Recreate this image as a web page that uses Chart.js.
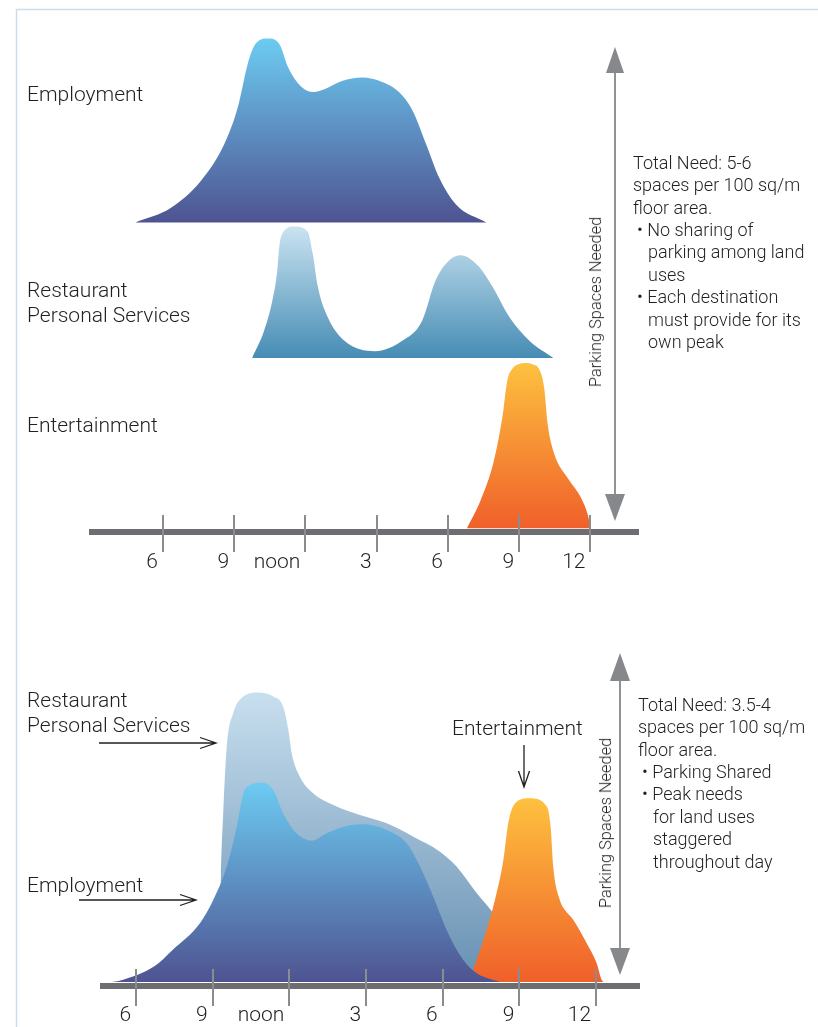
<!DOCTYPE html>
<html>
<head>
<meta charset="utf-8">
<script src="https://cdn.jsdelivr.net/npm/chart.js@4.4.1/dist/chart.umd.min.js"></script>
<style>
  body { margin: 0; background: #fff; }
  #page { position: relative; width: 818px; height: 1027px; overflow: hidden;
          font-family: Roboto, "Liberation Sans", sans-serif; font-weight: 300; color: #231f20; }
  canvas { position: absolute; left: 0; }
  svg { position: absolute; left: 0; top: 0; }
  .lbl { position: absolute; white-space: nowrap; font-size: 21px; line-height: 25px; }
  .note { position: absolute; white-space: nowrap; font-size: 18px; line-height: 22.4px; }
  .note .b { padding-left: 15px; text-indent: -11px; }
  .axisname { position: absolute; white-space: nowrap; font-size: 16.4px; line-height: 18px;
              transform: translate(-50%, -50%) rotate(-90deg); }
</style>
</head>
<body>
<div id="page">
  <svg width="818" height="1027">
    <path d="M16.5 1027 V9.5 H818" fill="none" stroke="#c8ddec" stroke-width="1.5"/>
    <!-- parking spaces arrows -->
    <line x1="615" y1="66" x2="615" y2="500" stroke="#909295" stroke-width="2"/>
    <polygon points="615,47 606,73 624,73" fill="#87888b"/>
    <polygon points="615,521 605,494 625,494" fill="#87888b"/>
    <line x1="620" y1="672" x2="620" y2="956" stroke="#909295" stroke-width="2"/>
    <polygon points="620,653 610,681 630,681" fill="#87888b"/>
    <polygon points="620,975 610,948 630,948" fill="#87888b"/>
    <!-- pointers -->
    <g fill="none" stroke="#231f20" stroke-width="1.3">
      <path d="M99 743 H216 M200 737.5 L216 743 L200 748.5"/>
      <path d="M79 900 H196 M180 894.5 L196 900 L180 905.5"/>
      <path d="M524 745 V787 M518.5 771 L524 787 L529.5 771"/>
    </g>
  </svg>

  <canvas id="separate" width="818" height="600" style="top:0"></canvas>
  <canvas id="shared" width="818" height="427" style="top:600px"></canvas>

  <div class="lbl" style="left:27px; top:81.5px">Employment</div>
  <div class="lbl" style="left:27px; top:277.5px">Restaurant<br>Personal Services</div>
  <div class="lbl" style="left:27px; top:412.5px">Entertainment</div>
  <div class="lbl" style="left:27px; top:687.5px">Restaurant<br>Personal Services</div>
  <div class="lbl" style="left:27px; top:872.5px">Employment</div>
  <div class="lbl" style="left:452px; top:715.5px">Entertainment</div>

  <div class="axisname" style="left:596px; top:302px">Parking Spaces Needed</div>
  <div class="axisname" style="left:606px; top:823px">Parking Spaces Needed</div>

  <div class="note" style="left:633px; top:151.8px">
    Total Need: 5-6<br>spaces per 100 sq/m<br>floor area.
    <div class="b">• No sharing of<br>parking among land<br>uses</div>
    <div class="b">• Each destination<br>must provide for its<br>own peak</div>
  </div>
  <div class="note" style="left:638px; top:693.8px">
    Total Need: 3.5-4<br>spaces per 100 sq/m<br>floor area.
    <div class="b">• Parking Shared</div>
    <div class="b">• Peak needs<br>for land uses<br>staggered<br>throughout day</div>
  </div>
</div>

<script>
const tickHours = [6, 9, 12, 15, 18, 21, 24];
const tickLabels = ['6', '9', 'noon', '3', '6', '9', '12'];

// each land use parking on its own
const employmentHours = [4.84, 6.33, 7.60, 8.59, 9.16, 9.58, 9.87, 10.43, 10.93, 11.27, 11.84, 12.34, 12.83, 13.54, 14.39, 15.23, 15.94, 16.51, 17.08, 17.64, 18.34, 19.62];
const employmentDemand = [0, 7.9, 22.6, 42.7, 62.8, 86.4, 96.5, 100, 96.5, 84.5, 73.6, 70.9, 72.6, 76.9, 78.8, 76.4, 70.9, 60.9, 42.7, 24.2, 9.8, 0];

const restaurantHours = [9.76, 10.26, 10.61, 10.82, 10.90, 11.04, 11.53, 12.10, 12.31, 12.53, 12.95, 13.66, 14.93, 16.06, 16.91, 17.48, 18.05, 18.54, 19.32, 19.89, 20.60, 21.44, 22.44];
const restaurantDemand = [0, 14.7, 31.1, 47.6, 60.3, 67.7, 71.4, 68.6, 56.7, 38.4, 22.0, 9.2, 3.7, 9.2, 20.1, 42.1, 53.0, 55.8, 49.4, 38.4, 22.0, 9.2, 0];

const entertainmentHours = [18.80, 19.36, 19.93, 20.29, 20.50, 20.71, 20.95, 21.28, 21.58, 21.83, 22.05, 22.20, 22.48, 23.04, 23.61, 23.89, 24.01];
const entertainmentDemand = [0, 14.7, 36.4, 60.3, 80.4, 86.7, 89.0, 89.8, 89.0, 86.7, 76.6, 56.5, 40.2, 27.3, 16.3, 7.2, 0];

// shared parking
const sharedEmploymentHours = [5.06, 5.32, 6.73, 7.43, 8.50, 9.02, 9.55, 9.94, 10.20, 10.46, 10.92, 11.37, 11.76, 12.28, 12.87, 13.46, 14.11, 14.89, 15.81, 16.59, 17.11, 17.63, 18.15, 18.80, 19.33, 19.98, 20.24];
const sharedEmploymentDemand = [0, 0.5, 8.0, 16.1, 29.5, 41.1, 57.9, 77.9, 94.7, 98.8, 100, 96.3, 84.6, 74.6, 70.9, 74.6, 77.9, 79.1, 76.3, 69.6, 57.9, 42.8, 26.1, 11.0, 4.4, 1.0, 0];

const sharedRestaurantHours = [9.25, 9.32, 9.41, 9.55, 9.80, 10.20, 10.78, 11.37, 11.76, 11.96, 12.09, 12.41, 12.93, 13.72, 14.76, 15.81, 16.85, 17.89, 18.54, 19.33, 19.98, 20.63, 21.41, 22.19, 22.78];
const sharedRestaurantDemand = [0, 52.7, 84.6, 118.1, 134.8, 143.2, 145.2, 143.2, 138.1, 126.4, 114.8, 103.0, 94.7, 88.8, 83.8, 79.6, 72.9, 65.4, 57.9, 44.5, 34.5, 22.6, 10.0, 2.5, 0];

const sharedEntertainmentHours = [19.06, 19.19, 19.59, 20.04, 20.37, 20.56, 20.83, 21.41, 22.07, 22.22, 22.32, 22.58, 22.78, 23.11, 23.63, 24.02, 24.22, 24.30];
const sharedEntertainmentDemand = [0, 6.0, 21.1, 41.1, 61.2, 79.6, 89.7, 92.2, 88.0, 77.9, 57.9, 41.1, 36.1, 31.1, 19.4, 9.4, 1.0, 0];

const blue = ['#6ccbf2', '#4e5391'];
const paleBlue = ['#cae3f1', '#468cb4'];
const greyBlue = ['#c8dfef', '#6790b2'];
const orange = ['#fdc13f', '#f0602a'];

// vertical gradient running from the curve's peak down to its baseline
const shade = (colors, base, peak) => (context) => {
  const { ctx, chartArea, scales } = context.chart;
  if (!chartArea) return colors[1];
  const g = ctx.createLinearGradient(0, scales.y.getPixelForValue(base + peak), 0, scales.y.getPixelForValue(base));
  g.addColorStop(0, colors[0]);
  g.addColorStop(1, colors[1]);
  return g;
};

const area = (label, hours, demand, base, colors) => ({
  label,
  data: hours.map((h, i) => ({ x: h, y: base + demand[i] })),
  fill: { value: base },
  backgroundColor: shade(colors, base, Math.max(...demand)),
  borderColor: 'rgba(0,0,0,0)',
  borderWidth: 0,
  pointRadius: 0,
  cubicInterpolationMode: 'monotone',
});

// tick marks crossing the time axis
const tickMarks = {
  id: 'tickMarks',
  afterDraw(chart) {
    const { ctx, scales: { x } } = chart;
    ctx.save();
    ctx.strokeStyle = '#8b8c8f';
    ctx.lineWidth = 2;
    x.ticks.forEach((t) => {
      const px = Math.round(x.getPixelForValue(t.value));
      ctx.beginPath();
      ctx.moveTo(px, x.top - 17);
      ctx.lineTo(px, x.top + 20);
      ctx.stroke();
    });
    ctx.restore();
  },
};

const options = (xMin, xMax, yMax, padding, axisHeight, labelGap) => ({
  responsive: false,
  animation: false,
  devicePixelRatio: 1,
  layout: { padding },
  plugins: { legend: { display: false }, tooltip: { enabled: false } },
  scales: {
    x: {
      type: 'linear',
      min: xMin,
      max: xMax,
      afterBuildTicks: (scale) => { scale.ticks = tickHours.map((v) => ({ value: v })); },
      afterFit: (scale) => { scale.height = axisHeight; },
      grid: { drawOnChartArea: false, drawTicks: false },
      border: { display: true, color: '#6d6e71', width: 6, z: 1 },
      ticks: {
        autoSkip: false,
        maxRotation: 0,
        align: 'end',
        labelOffset: -5,
        padding: labelGap,
        color: '#231f20',
        font: { family: 'Roboto', size: 21, weight: '300' },
        callback: (value, index) => tickLabels[index],
      },
    },
    y: { display: false, min: -2, max: yMax },
  },
});

new Chart(document.getElementById('separate'), {
  type: 'line',
  data: {
    datasets: [
      area('Employment', employmentHours, employmentDemand, 166.2, blue),
      area('Restaurant / Personal Services', restaurantHours, restaurantDemand, 92.6, paleBlue),
      area('Entertainment', entertainmentHours, entertainmentDemand, 0, orange),
    ],
  },
  options: options(3, 26, 278, { left: 91.5, right: 180, top: 16.8, bottom: 28 }, 40, 18),
  plugins: [tickMarks],
});

new Chart(document.getElementById('shared'), {
  type: 'line',
  data: {
    datasets: [
      area('Employment', sharedEmploymentHours, sharedEmploymentDemand, 0, blue),
      area('Entertainment', sharedEntertainmentHours, sharedEntertainmentDemand, 0, orange),
      area('Restaurant / Personal Services', sharedRestaurantHours, sharedRestaurantDemand, 0, greyBlue),
    ],
  },
  options: options(4.7, 25.7, 188, { left: 102.8, right: 178.4, top: 7.3, bottom: 5 }, 36, 17),
  plugins: [tickMarks],
});
</script>
</body>
</html>
